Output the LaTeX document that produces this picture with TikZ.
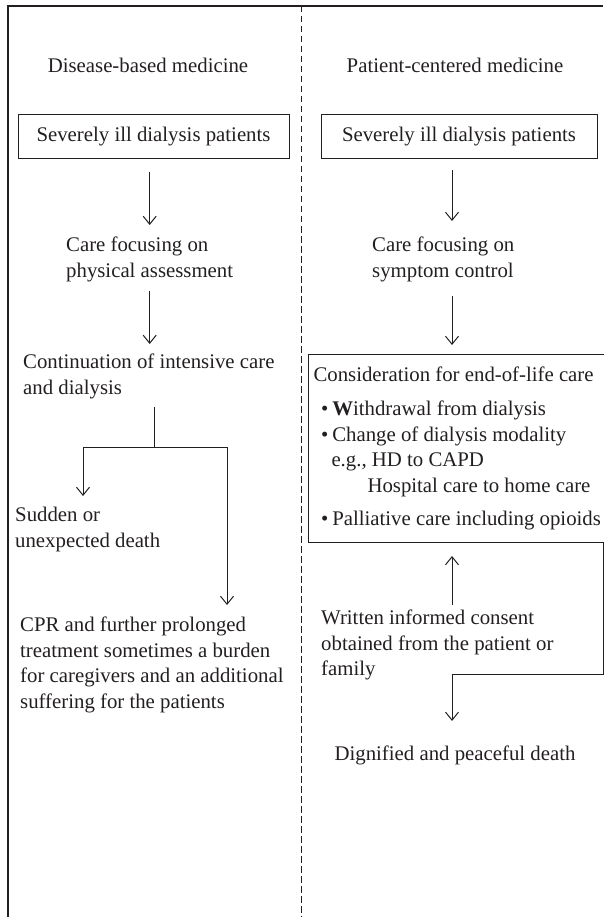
\documentclass[tikz,border=0pt]{standalone}
\usepackage{fontspec}
\setmainfont{Liberation Serif}
\usetikzlibrary{arrows.meta}
\definecolor{ink}{HTML}{231F20}

\begin{document}
\begin{tikzpicture}[x=1pt,y=-1pt,
                every node/.style={font=\fontsize{20.8}{25.5}\selectfont, text=ink},
                txt/.style={inner sep=0, align=left, anchor=north west},
                boxed/.style={draw=ink, line width=1pt, inner sep=0, minimum height=44pt},
                link/.style={draw=ink, line width=1pt},
                arr/.style={link, -{Straight Barb[length=8pt,width=13pt]}}]
                \useasboundingbox (0,0) rectangle (603,917);

                \draw[ink, line width=1.3pt] (8,917) -- (8,6) -- (603,6);
                \draw[ink, line width=1pt, dash pattern=on 6.5pt off 3.5pt] (301,6) -- (301,917);

                \node (headL) at (148,65) {Disease-based medicine};
                \node (headR) at (455,65) {Patient-centered medicine};

                \node[boxed, minimum width=271pt] (sickL) at (153.5,137) {Severely ill dialysis patients};
                \node[boxed, minimum width=276pt] (sickR) at (459,137) {Severely ill dialysis patients};

                \node[txt] (physL) at (66,237) {Care focusing on\\physical assessment};
                \node[txt] (contL) at (23,354) {Continuation of intensive care\\and dialysis};
                \node[txt] (suddenL) at (15,507) {Sudden or\\unexpected death};
                \node[txt] (cprL) at (20,617) {CPR and further prolonged\\treatment sometimes a burden\\for caregivers and an additional\\suffering for the patients};

                \node[txt] (sympR) at (372,237) {Care focusing on\\symptom control};
                \node[boxed, anchor=north west, minimum width=294pt, minimum height=188pt, align=left, inner xsep=5pt] (endR) at (308,354)
                    {Consideration for end-of-life care\\[8.5pt]
                     \hspace*{7.5pt}\textbullet\hspace{4pt}\textbf{W}ithdrawal from dialysis\\
                     \hspace*{7.5pt}\textbullet\hspace{4pt}Change of dialysis modality\\
                     \hspace*{18pt}e.g., HD to CAPD\\
                     \hspace*{54pt}Hospital care to home care\\[7.5pt]
                     \hspace*{7.5pt}\textbullet\hspace{4pt}Palliative care including opioids};
                \node[txt] (consentR) at (321,610) {Written informed consent\\obtained from the patient or\\family};
                \node (deathR) at (455,755) {Dignified and peaceful death};

                \coordinate (fork) at (154,447);
                \coordinate (forkL) at (83,447);
                \coordinate (forkR) at (227,447);
                \coordinate (turn) at (452,674);

                \draw[arr, shorten <=13pt, shorten >=12pt] (sickL.south -| physL.north) -- (physL.north);
                \draw[arr, shorten <=8.5pt, shorten >=10pt] (physL.south) -- (physL.south |- contL.north);
                \draw[link, shorten <=7.5pt] (contL.south -| fork) -- (fork);
                \draw[arr, shorten >=11pt] (fork) -- (forkL) -- (forkL |- suddenL.north);
                \draw[arr, shorten >=12pt] (fork) -- (forkR) -- (forkR |- cprL.north);

                \draw[arr, shorten <=11pt, shorten >=16pt] (turn |- sickR.south) -- (turn |- sympR.north);
                \draw[arr, shorten <=13.5pt, shorten >=9pt] (turn |- sympR.south) -- (turn |- endR.north);
                \draw[arr, shorten <=5pt, shorten >=13pt] (turn |- consentR.north) -- (turn |- endR.south);
                \draw[arr, shorten >=21pt] ([xshift=-3pt]endR.south east) |- (turn) -- (turn |- deathR.north);
            \end{tikzpicture}
\end{document}
